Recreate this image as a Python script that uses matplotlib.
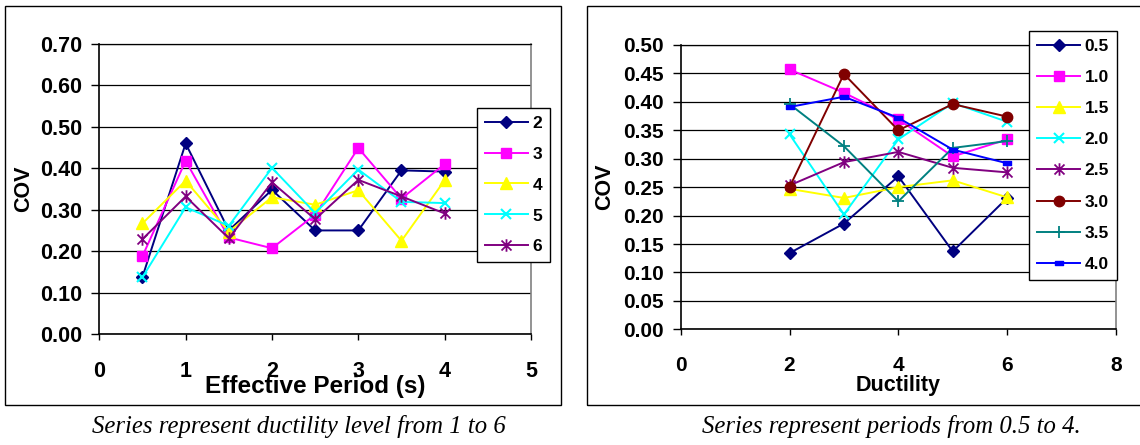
import matplotlib
matplotlib.use("Agg")
import matplotlib.pyplot as plt
from matplotlib.path import Path
from matplotlib.patches import Rectangle

# ---------------- data ----------------
periods = [0.5, 1.0, 1.5, 2.0, 2.5, 3.0, 3.5, 4.0]
ductility_labels = ["2", "3", "4", "5", "6"]
cov_mu2 = [0.138, 0.460, 0.250, 0.348, 0.250, 0.250, 0.395, 0.392]
cov_mu3 = [0.188, 0.418, 0.233, 0.207, 0.288, 0.449, 0.327, 0.410]
cov_mu4 = [0.267, 0.370, 0.247, 0.330, 0.312, 0.347, 0.225, 0.371]
cov_mu5 = [0.137, 0.306, 0.261, 0.401, 0.292, 0.397, 0.319, 0.316]
cov_mu6 = [0.229, 0.332, 0.231, 0.366, 0.277, 0.372, 0.332, 0.291]

ductility = [2, 3, 4, 5, 6]
period_labels = ["0.5", "1.0", "1.5", "2.0", "2.5", "3.0", "3.5", "4.0"]
cov_T05 = [0.134, 0.186, 0.269, 0.137, 0.231]
cov_T10 = [0.457, 0.416, 0.369, 0.304, 0.334]
cov_T15 = [0.247, 0.231, 0.250, 0.262, 0.232]
cov_T20 = [0.343, 0.202, 0.334, 0.398, 0.365]
cov_T25 = [0.253, 0.294, 0.312, 0.284, 0.276]
cov_T30 = [0.250, 0.449, 0.350, 0.396, 0.374]
cov_T35 = [0.396, 0.322, 0.225, 0.319, 0.331]
cov_T40 = [0.391, 0.409, 0.372, 0.316, 0.292]

left_ticks_y = [0.0, 0.1, 0.2, 0.3, 0.4, 0.5, 0.6, 0.7]
left_ticks_x = [0, 1, 2, 3, 4, 5]
right_ticks_y = [0.00, 0.05, 0.10, 0.15, 0.20, 0.25, 0.30, 0.35, 0.40, 0.45, 0.50]
right_ticks_x = [0, 2, 4, 6, 8]

# ---------------- markers ----------------
star = Path([(-1, -1), (1, 1), (-1, 1), (1, -1), (0, -1.25), (0, 1.25)],
            [Path.MOVETO, Path.LINETO, Path.MOVETO, Path.LINETO, Path.MOVETO, Path.LINETO])
dash = Path([(-1, -0.4), (1, -0.4), (1, 0.4), (-1, 0.4), (-1, -0.4)],
            [Path.MOVETO, Path.LINETO, Path.LINETO, Path.LINETO, Path.CLOSEPOLY])

NAVY, MAGENTA, YELLOW, CYAN = "#000080", "#FF00FF", "#FFFF00", "#00FFFF"
PURPLE, MAROON, TEAL, BLUE = "#800080", "#800000", "#008080", "#0000FF"

styles = {
    "diamond": dict(color=NAVY, marker="D", ms=6.5, mfc=NAVY, mec=NAVY),
    "square": dict(color=MAGENTA, marker="s", ms=7, mfc=MAGENTA, mec=MAGENTA),
    "triangle": dict(color=YELLOW, marker="^", ms=8.5, mfc=YELLOW, mec=YELLOW),
    "x": dict(color=CYAN, marker="x", ms=7.5, mec=CYAN, mew=1.5),
    "star": dict(color=PURPLE, marker=star, ms=9, mec=PURPLE, mew=1.3),
    "circle": dict(color=MAROON, marker="o", ms=7.5, mfc=MAROON, mec=MAROON),
    "plus": dict(color=TEAL, marker="+", ms=9, mec=TEAL, mew=1.3),
    "dash": dict(color=BLUE, marker=dash, ms=6, mfc=BLUE, mec=BLUE),
}

SANS = "Liberation Sans"
SERIF = "Liberation Serif"

W, H = 1140, 445
fig = plt.figure(figsize=(W / 100, H / 100), dpi=100)


def px_axes(x0, y0, x1, y1):
    return fig.add_axes([x0 / W, 1 - y1 / H, (x1 - x0) / W, (y1 - y0) / H])


def style_axes(ax, xt, yt, yfmt, xpad, ypad, size):
    ax.set_xticks(xt)
    ax.set_yticks(yt)
    ax.set_xticklabels([str(v) for v in xt], fontfamily=SANS, fontweight="bold", fontsize=size)
    ax.set_yticklabels([yfmt.format(v) for v in yt], fontfamily=SANS, fontweight="bold", fontsize=size)
    ax.tick_params(axis="x", direction="out", length=4.5, width=1, pad=xpad)
    ax.tick_params(axis="y", direction="out", length=5.5, width=1, pad=ypad)
    ax.grid(axis="y", color="black", lw=0.9)
    ax.set_axisbelow(True)
    for s in ("left", "bottom"):
        ax.spines[s].set_color("black")
        ax.spines[s].set_linewidth(1.2)
    ax.spines["top"].set_color("black")
    ax.spines["top"].set_linewidth(0.9)
    ax.spines["right"].set_color("#808080")
    ax.spines["right"].set_linewidth(1.2)


def add_legend(ax, x0, y0, spacing):
    leg = ax.legend(loc="upper left", bbox_to_anchor=(x0 / W, 1 - y0 / H),
                    bbox_transform=fig.transFigure, borderaxespad=0,
                    prop=dict(family=SANS, weight="bold", size=12.5),
                    handlelength=2.5, handletextpad=0.25, labelspacing=spacing,
                    borderpad=0.45, fancybox=False, framealpha=1, edgecolor="black")
    leg.get_frame().set_linewidth(1)
    return leg


# frames around each chart
fig.patches.append(Rectangle((5 / W, 1 - 405 / H), (561 - 5) / W, (405 - 6) / H,
                             transform=fig.transFigure, fill=False, ec="black", lw=1))
fig.patches.append(Rectangle((587 / W, 1 - 405 / H), (1160 - 587) / W, (405 - 6) / H,
                             transform=fig.transFigure, fill=False, ec="black", lw=1))

# ---------------- left chart: COV vs effective period ----------------
ax1 = px_axes(99.3, 44, 531, 334)
left_series = [cov_mu2, cov_mu3, cov_mu4, cov_mu5, cov_mu6]
left_styles = ["diamond", "square", "triangle", "x", "star"]
for vals, lab, st in zip(left_series, ductility_labels, left_styles):
    ax1.plot(periods, vals, lw=1.4, label=lab, **styles[st])
ax1.set_xlim(0, 5)
ax1.set_ylim(0, 0.7)
style_axes(ax1, left_ticks_x, left_ticks_y, "{:.2f}", 15, 7, 15.5)
ax1.set_xlabel("Effective Period (s)", fontfamily=SANS, fontweight="bold", fontsize=17.5)
ax1.xaxis.set_label_coords(0.5, (334 - 387) / 290)
ax1.xaxis.label.set_va("center")
fig.text(24 / W, 1 - 189 / H, "COV", rotation=90, ha="center", va="center",
         fontfamily=SANS, fontweight="bold", fontsize=15.5)
add_legend(ax1, 476.7, 107.7, 0.91)

fig.text(92 / W, 1 - 427 / H, "Series represent ductility level from 1 to 6",
         ha="left", va="center", fontfamily=SERIF, fontstyle="italic", fontsize=17.8)

# ---------------- right chart: COV vs ductility ----------------
ax2 = px_axes(680.7, 45, 1116, 329.3)
right_series = [cov_T05, cov_T10, cov_T15, cov_T20, cov_T25, cov_T30, cov_T35, cov_T40]
right_styles = ["diamond", "square", "triangle", "x", "star", "circle", "plus", "dash"]
for vals, lab, st in zip(right_series, period_labels, right_styles):
    ax2.plot(ductility, vals, lw=1.4, label=lab, **styles[st])
ax2.set_xlim(0, 8)
ax2.set_ylim(0, 0.5)
style_axes(ax2, right_ticks_x, right_ticks_y, "{:.2f}", 15, 6.5, 15)
ax2.set_xlabel("Ductility", fontfamily=SANS, fontweight="bold", fontsize=15.5)
ax2.xaxis.set_label_coords(0.5, (329.3 - 385) / 284.3)
ax2.xaxis.label.set_va("center")
fig.text(605 / W, 1 - 187 / H, "COV", rotation=90, ha="center", va="center",
         fontfamily=SANS, fontweight="bold", fontsize=15.5)
add_legend(ax2, 1029, 31, 0.92)

fig.text(701.7 / W, 1 - 427 / H, "Series represent periods from 0.5 to 4.",
         ha="left", va="center", fontfamily=SERIF, fontstyle="italic", fontsize=17.8)

fig.savefig("out.png", dpi=100)
